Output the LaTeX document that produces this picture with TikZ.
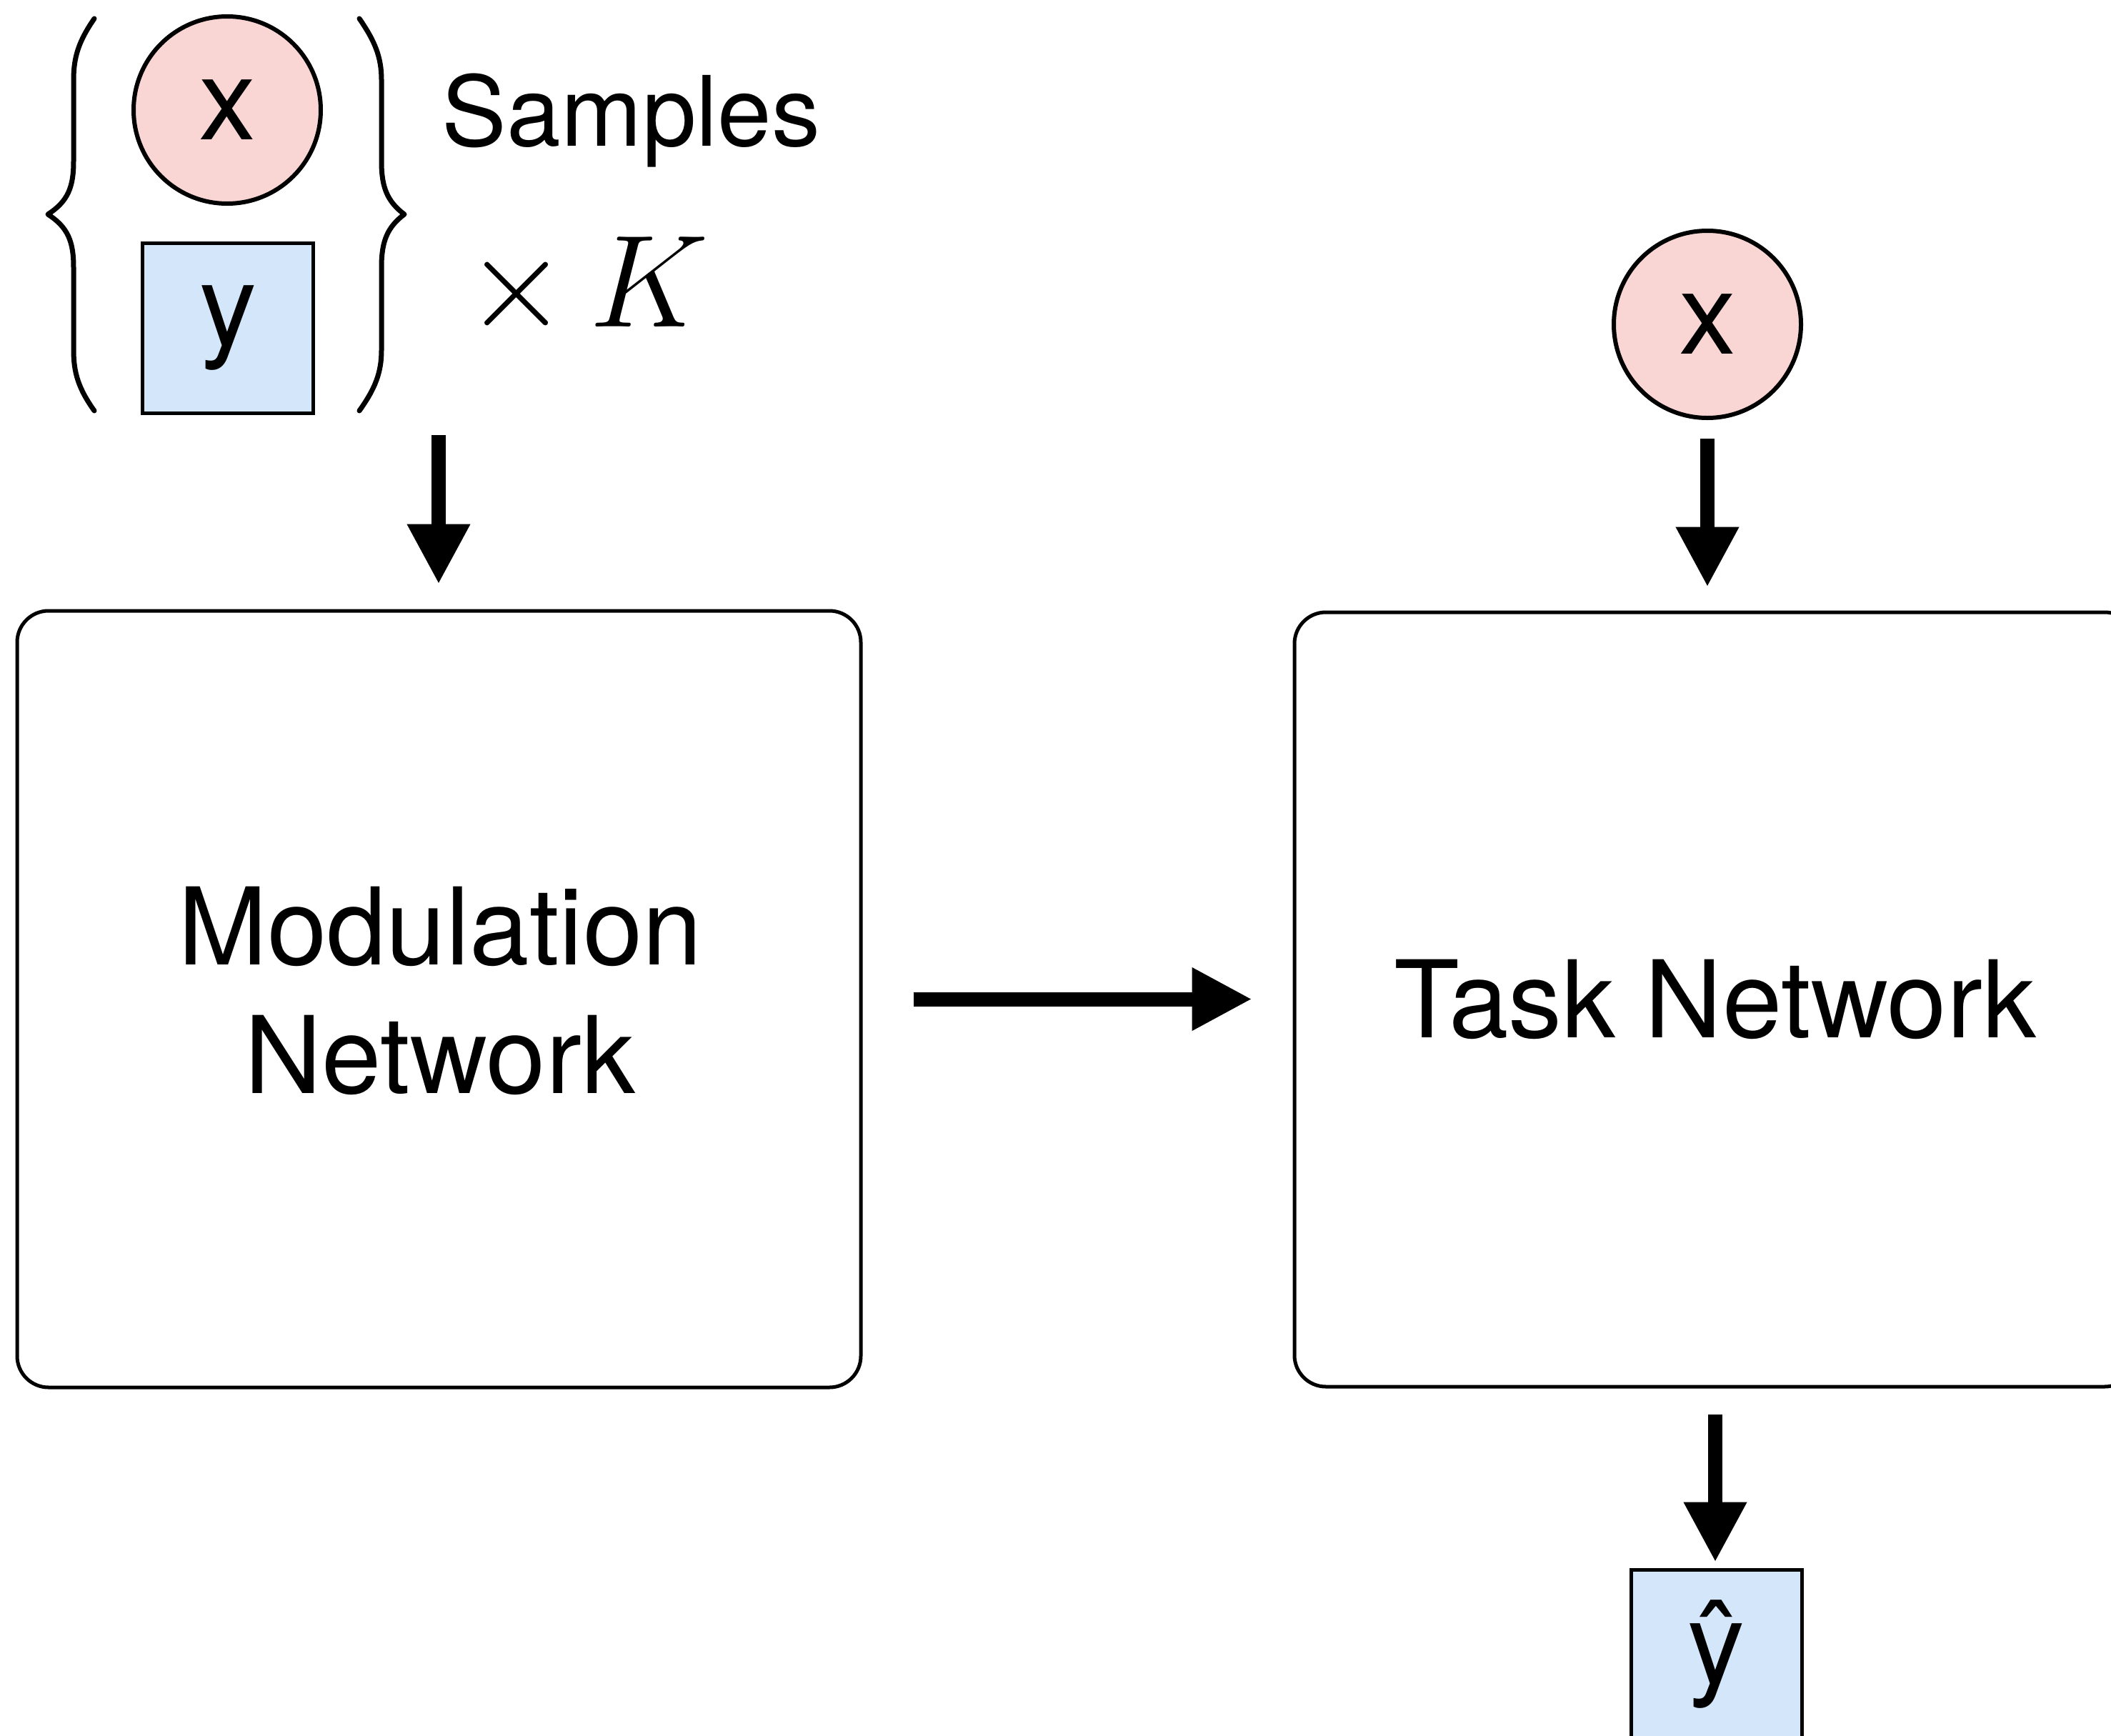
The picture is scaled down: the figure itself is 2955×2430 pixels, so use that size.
\documentclass[tikz,border=0pt]{standalone}
\usepackage{fontspec}
\setmainfont{TeX Gyre Heros}
\usetikzlibrary{arrows.meta}
\definecolor{pinkfill}{HTML}{F9D6D4}
\definecolor{bluefill}{HTML}{D3E6FA}
\tikzset{
  circ/.style={circle, draw=black, fill=pinkfill, line width=1.5pt, minimum size=65.5pt, inner sep=0pt, font=\fontsize{40}{48}\selectfont},
  sqbox/.style={rectangle, draw=black, fill=bluefill, line width=1.25pt, minimum width=59.75pt, minimum height=59.5pt, inner sep=0pt, font=\fontsize{40}{48}\selectfont},
  netbox/.style={rectangle, rounded corners=11pt, draw=black, line width=1.25pt, inner sep=0pt, align=center, font=\fontsize{37.5}{45}\selectfont},
  brace/.style={line width=1.75pt, line cap=round, line join=round},
  bigarrow/.style={line width=5pt, -{Triangle[width=20.75pt,length=21pt]}},
}
\begin{document}
\begin{tikzpicture}[x=0.25pt,y=-0.25pt]
\useasboundingbox (0,0) rectangle (2955,2430);
\clip (0,0) rectangle (2955,2430);
% left sample group
\node[circ] (x1) at (318,154) {x};
\node[sqbox] (y1) at (319,459) {y};
\draw[brace] (132,26) .. controls (110,58) and (103,80) .. (103,112) -- (103,226)
  .. controls (103,262) and (95,282) .. (67,300) .. controls (95,318) and (103,338) .. (103,374)
  -- (103,490) .. controls (103,522) and (110,544) .. (132,575);
\draw[brace] (503,26) .. controls (525,58) and (534,80) .. (534,112) -- (534,226)
  .. controls (534,262) and (542,282) .. (566,300) .. controls (542,318) and (534,338) .. (534,374)
  -- (534,490) .. controls (534,522) and (525,544) .. (503,575);
\node[anchor=base west, inner sep=0pt, font=\fontsize{34}{40}\selectfont] (samples) at (618,204) {Samples};
\node[anchor=base west, inner sep=0pt, font=\Huge, scale=1.85, transform shape] (timesk) at (650,457) {$\times\,K$};
% networks
\node[netbox, minimum width=295.25pt, minimum height=271.75pt] (mod) at (614.5,1398.5) {};
\node[align=center, inner sep=0pt, font=\fontsize{37.5}{45}\selectfont] (modlabel) at (616,1387) {Modulation\\Network};
\node[netbox, minimum width=294.5pt, minimum height=271pt] (task) at (2401,1399) {Task Network};
% right inputs/outputs
\node[circ] (x2) at (2390,454) {x};
\node[sqbox] (yhat) at (2402.5,2316) {ŷ};
% arrows
\coordinate (a1) at (614,609);
\draw[bigarrow, shorten >=8.75pt] (a1) -- (a1 |- mod.north);
\draw[bigarrow, shorten <=6.5pt, shorten >=8.25pt] (x2.south) -- (x2.south |- task.north);
\draw[bigarrow, shorten <=17.75pt, shorten >=14.25pt] (mod.east) -- (mod.east -| task.west);
\draw[bigarrow, shorten <=9pt, shorten >=2pt] (task.south) -- (task.south |- yhat.north);
\end{tikzpicture}
\end{document}
